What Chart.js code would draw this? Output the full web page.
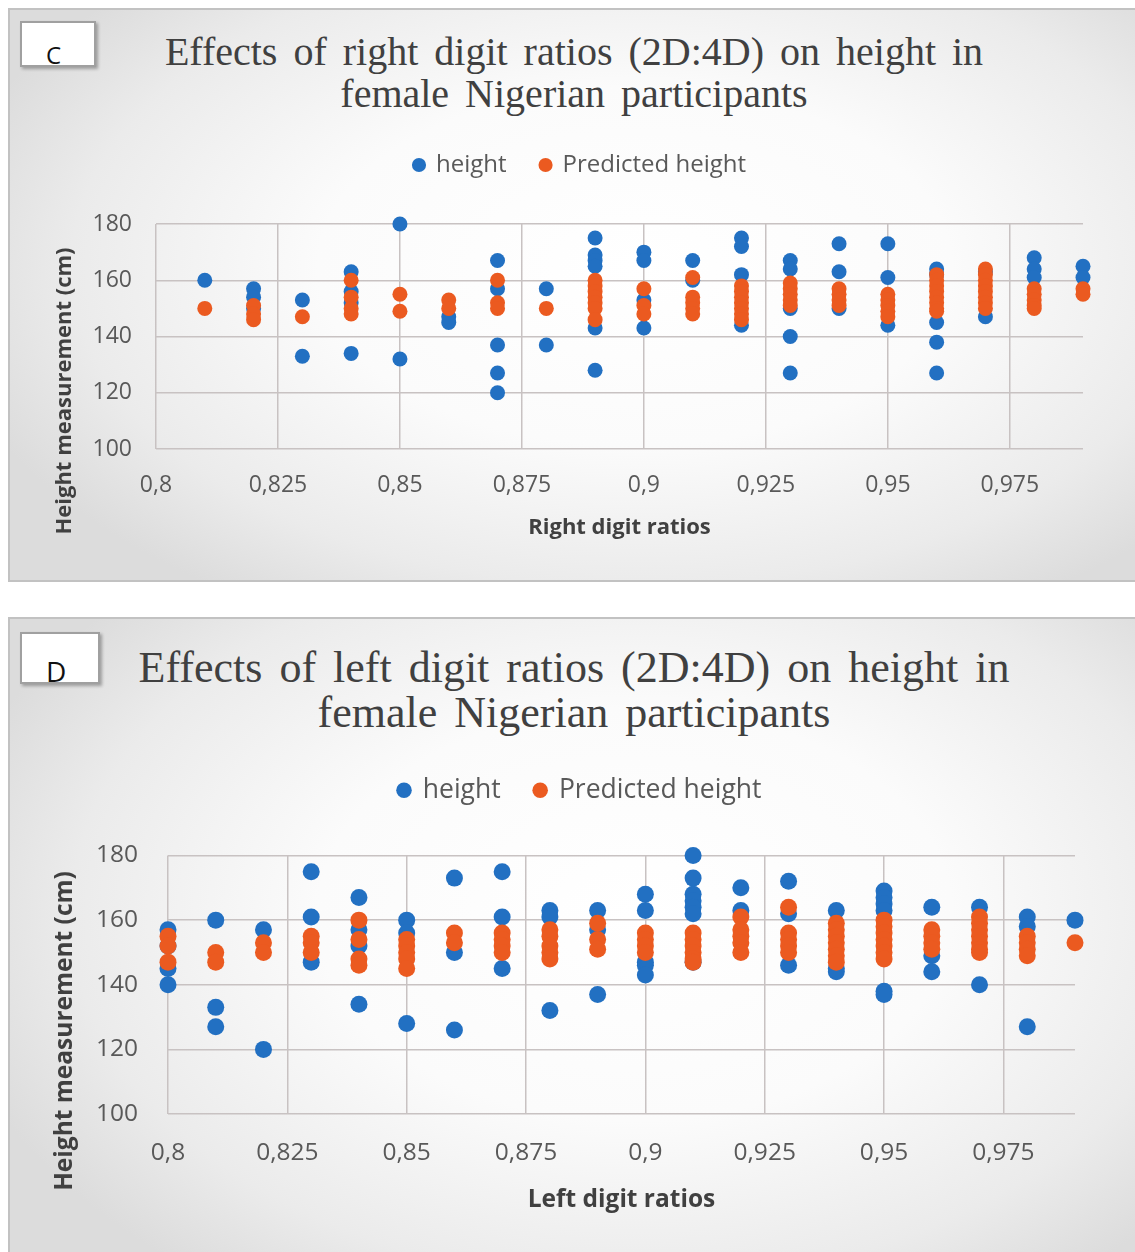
<!DOCTYPE html>
<html>
<head>
<meta charset="utf-8">
<script src="https://cdn.jsdelivr.net/npm/chart.js@4.4.1/dist/chart.umd.min.js"></script>
<style>
  body { margin: 0; background: #fff; width: 1135px; height: 1252px; overflow: hidden; position: relative; }
  .panel {
    position: absolute; left: 8px; width: 1140px; box-sizing: border-box;
    border: 2px solid #c2c2c2;
    background: radial-gradient(ellipse 62% 70% at 55% 45%, #ffffff 0%, #fbfbfb 45%, #ebebeb 80%, #dcdcdc 100%);
  }
  #panelC { top: 8px; height: 574px; }
  #panelD { top: 617px; height: 660px; }
  .tag {
    position: absolute; left: 10px; box-sizing: border-box; background: #fff;
    border: 2px solid #a0a0a0; box-shadow: 2px 2px 3px rgba(0,0,0,0.3);
    font-family: "Open Sans", sans-serif; color: #111;
  }
  .title {
    position: absolute; left: 0; width: 1128px; text-align: center;
    font-family: "Liberation Serif", serif; color: #404040; word-spacing: 6px;
  }
  .chartBox { position: absolute; left: 0; }
</style>
</head>
<body>
<div class="panel" id="panelC">
  <div class="tag" style="top:11px;width:76px;height:46px;font-size:24px;line-height:24px;padding:20px 0 0 24px;">C</div>
  <div class="title" style="top:21px;font-size:40px;line-height:42px;">Effects of right digit ratios (2D:4D) on height in<br>female Nigerian participants</div>
  <div class="chartBox" style="top:90px;"><canvas id="chartC" width="1125" height="480"></canvas></div>
</div>
<div class="panel" id="panelD">
  <div class="tag" style="top:13px;width:80px;height:52px;font-size:28px;line-height:28px;padding:23px 0 0 24px;">D</div>
  <div class="title" style="top:26px;font-size:44px;line-height:45px;">Effects of left digit ratios (2D:4D) on height in<br>female Nigerian participants</div>
  <div class="chartBox" style="top:81px;"><canvas id="chartD" width="1125" height="552"></canvas></div>
</div>
<script>
// tick values
const xTickValues = [0.8, 0.825, 0.85, 0.875, 0.9, 0.925, 0.95, 0.975];
const yTickValues = [100, 120, 140, 160, 180];

// C - right hand
const rightRatios = [0.81, 0.82, 0.83, 0.84, 0.85, 0.86, 0.87, 0.88, 0.89, 0.90,
                     0.91, 0.92, 0.93, 0.94, 0.95, 0.96, 0.97, 0.98, 0.99];
const rightHeight = [
  [160], [157, 154, 150], [153, 133], [163, 156, 152, 134], [180, 132],
  [147, 145], [167, 157, 137, 127, 120], [157, 137], [175, 169, 167, 165, 143, 128],
  [170, 167, 153, 143], [167, 160], [175, 172, 162, 144], [167, 164, 150, 140, 127],
  [173, 163, 150], [173, 161, 144], [164, 162, 145, 138, 127], [163, 147],
  [168, 164, 161], [165, 161]
];
const rightPredicted = [
  [150], [151, 148, 146], [147], [160, 154, 150, 148], [155, 149],
  [153, 150], [160, 152, 150], [150], [160, 158, 156, 154, 152, 150, 146],
  [157, 151, 148], [161, 154, 152, 150, 148], [158, 156, 154, 152, 150, 148, 146],
  [159, 157, 155, 153, 151], [157, 155, 153, 151], [155, 153, 151, 149, 147],
  [162, 160, 158, 156, 154, 152, 150, 149], [164, 162, 160, 158, 156, 154, 152, 150],
  [157, 155, 153, 151, 150], [157, 155]
];

// D - left hand
const leftRatios = [0.80, 0.81, 0.82, 0.83, 0.84, 0.85, 0.86, 0.87, 0.88, 0.89,
                    0.90, 0.91, 0.92, 0.93, 0.94, 0.95, 0.96, 0.97, 0.98, 0.99];
const leftHeight = [
  [157, 152, 145, 140], [160, 133, 127], [157, 120], [175, 161, 147],
  [167, 157, 152, 134], [160, 156, 128], [173, 150, 126], [175, 161, 145],
  [163, 161, 132], [163, 157, 137], [168, 163, 147, 146, 143],
  [180, 173, 168, 166, 164, 162, 147], [170, 163], [172, 162, 146],
  [163, 145, 144], [169, 167, 165, 163, 138, 137], [164, 149, 144],
  [164, 140], [161, 158, 127], [160]
];
const leftPredicted = [
  [155, 152, 147], [150, 147], [153, 150], [155, 153, 150], [160, 154, 148, 146],
  [154, 152, 150, 148, 145], [156, 153], [156, 154, 152, 150], [157, 155, 152, 150, 148],
  [159, 154, 151], [156, 154, 152, 150], [156, 154, 152, 150, 148, 147],
  [161, 157, 155, 153, 150], [164, 156, 154, 152, 150], [159, 157, 155, 153, 151, 149, 147],
  [160, 158, 156, 154, 152, 150, 148], [157, 155, 153, 151], [161, 159, 157, 155, 153, 151, 150],
  [155, 153, 151, 149], [153]
];

const BLUE = '#2270c2';
const ORANGE = '#eb5a20';
const gridColor = '#c8c2c2';
const tickColor = '#595959';

function toPoints(ratios, groups) {
    const pts = [];
    ratios.forEach((r, i) => groups[i].forEach(v => pts.push({ x: r, y: v })));
    return pts;
}

// pushes the plot area further below the legend
const legendGap = {
    id: 'legendGap',
    beforeInit(chart, args, opts) {
        const origFit = chart.legend.fit;
        chart.legend.fit = function () {
            origFit.call(this);
            this.height += opts.extra;
        };
    }
};

// vertical axis title, placed like in the original
const yTitle = {
    id: 'yTitle',
    afterDraw(chart, args, opts) {
        const ctx = chart.ctx;
        ctx.save();
        ctx.translate(opts.x, opts.y);
        ctx.rotate(-Math.PI / 2);
        ctx.font = 'bold ' + opts.size + 'px "Open Sans"';
        ctx.fillStyle = '#404040';
        ctx.textAlign = 'center';
        ctx.textBaseline = 'middle';
        ctx.fillText(opts.text, 0, 0);
        ctx.restore();
    }
};

function makeChart(id, ratios, heights, predicted, cfg) {
    const ctx = document.getElementById(id).getContext('2d');
    return new Chart(ctx, {
        type: 'scatter',
        data: {
            datasets: [{
                label: 'height',
                data: toPoints(ratios, heights),
                backgroundColor: BLUE,
                borderWidth: 0,
                pointRadius: cfg.radius,
                pointHoverRadius: cfg.radius,
                clip: false,
                order: 1
            }, {
                label: 'Predicted height',
                data: toPoints(ratios, predicted),
                backgroundColor: ORANGE,
                borderWidth: 0,
                pointRadius: cfg.radius,
                pointHoverRadius: cfg.radius,
                clip: false,
                order: 0
            }]
        },
        options: {
            responsive: false,
            animation: false,
            layout: { padding: { left: cfg.padLeft, right: cfg.padRight, top: cfg.padTop, bottom: 0 } },
            plugins: {
                tooltip: { enabled: false },
                legend: {
                    position: 'top',
                    labels: {
                        usePointStyle: true,
                        pointStyle: 'circle',
                        boxWidth: cfg.legendBox,
                        boxHeight: cfg.legendBox,
                        padding: 34,
                        color: tickColor,
                        font: { family: 'Open Sans', size: cfg.legendSize },
                        sort: (a, b) => a.datasetIndex - b.datasetIndex
                    }
                },
                legendGap: { extra: cfg.legendExtra },
                yTitle: { text: 'Height measurement (cm)', x: cfg.yTitleX, y: cfg.yTitleY, size: cfg.axisTitleSize }
            },
            scales: {
                x: {
                    type: 'linear',
                    min: 0.8,
                    max: 0.99,
                    afterBuildTicks: s => { s.ticks = xTickValues.map(v => ({ value: v })); },
                    afterFit: s => { s.height = cfg.xAxisHeight; },
                    grid: { color: gridColor, lineWidth: 1.5, drawTicks: false },
                    border: { display: false },
                    ticks: {
                        padding: cfg.xTickPad,
                        color: tickColor,
                        maxRotation: 0,
                        autoSkip: false,
                        font: { family: 'Open Sans', size: cfg.tickSize },
                        callback: v => String(+v.toFixed(3)).replace('.', ',')
                    },
                    title: {
                        display: true,
                        text: cfg.xTitle,
                        color: '#404040',
                        font: { family: 'Open Sans', size: cfg.axisTitleSize, weight: 'bold' },
                        padding: { top: 0, bottom: cfg.xTitlePad }
                    }
                },
                y: {
                    min: 100,
                    max: 180,
                    afterBuildTicks: s => { s.ticks = yTickValues.map(v => ({ value: v })); },
                    afterFit: s => { s.width = cfg.yAxisWidth; },
                    grid: { color: gridColor, lineWidth: 1.5, drawTicks: false },
                    border: { display: false },
                    ticks: {
                        padding: cfg.yTickPad,
                        color: tickColor,
                        font: { family: 'Open Sans', size: cfg.tickSize }
                    }
                }
            }
        },
        plugins: [legendGap, yTitle]
    });
}

makeChart('chartC', rightRatios, rightHeight, rightPredicted, {
    radius: 7.5, padLeft: 67, padRight: 52, padTop: 19,
    legendBox: 10, legendSize: 24, legendExtra: 37,
    xAxisHeight: 131, xTickPad: 23, xTitlePad: 39, yAxisWidth: 79, yTickPad: 24,
    tickSize: 23, axisTitleSize: 22, xTitle: 'Right digit ratios',
    yTitleX: 55, yTitleY: 291
});

makeChart('chartD', leftRatios, leftHeight, leftPredicted, {
    radius: 8.5, padLeft: 75, padRight: 60, padTop: 43,
    legendBox: 11, legendSize: 26.5, legendExtra: 42,
    xAxisHeight: 138, xTickPad: 24, xTitlePad: 37, yAxisWidth: 83, yTickPad: 30,
    tickSize: 24.5, axisTitleSize: 24.5, xTitle: 'Left digit ratios',
    yTitleX: 55, yTitleY: 331
});
</script>
</body>
</html>
